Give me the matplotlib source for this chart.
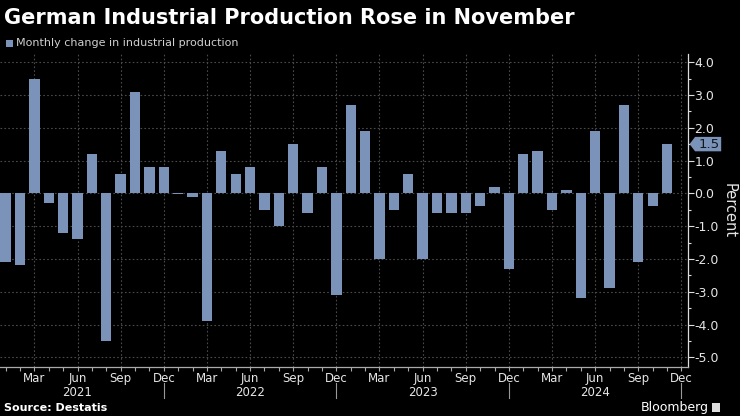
import matplotlib
matplotlib.use("Agg")
import matplotlib.pyplot as plt
from matplotlib.patches import Polygon, Rectangle
from matplotlib.ticker import MultipleLocator, FixedLocator
import numpy as np

# ---- data ----
months = ["Jan", "Feb", "Mar", "Apr", "May", "Jun", "Jul", "Aug", "Sep", "Oct", "Nov", "Dec"]
years = [2021, 2022, 2023, 2024]
values_2021 = [-2.1, -2.2, 3.5, -0.3, -1.2, -1.4, 1.2, -4.5, 0.6, 3.1, 0.8, 0.8]
values_2022 = [-0.02, -0.1, -3.9, 1.3, 0.6, 0.8, -0.5, -1.0, 1.5, -0.6, 0.8, -3.1]
values_2023 = [2.7, 1.9, -2.0, -0.5, 0.6, -2.0, -0.6, -0.6, -0.6, -0.4, 0.2, -2.3]
values_2024 = [1.2, 1.3, -0.5, 0.1, -3.2, 1.9, -2.9, 2.7, -2.1, -0.4, 1.5]
values = values_2021 + values_2022 + values_2023 + values_2024
tick_months = ["Mar", "Jun", "Sep", "Dec"]
title = "German Industrial Production Rose in November"
legend_label = "Monthly change in industrial production"
source = "Source: Destatis"

BG = "#000000"
BAR = "#7b93b9"
TXT = "#e6e6e6"
GRID = "#4a4a4a"

W, H = 740, 416
fig = plt.figure(figsize=(W / 100, H / 100), dpi=100, facecolor=BG)

ax_l, ax_r, ax_t, ax_b = 0, 687.5, 54, 366.5
ax = fig.add_axes([ax_l / W, 1 - ax_b / H, (ax_r - ax_l) / W, (ax_b - ax_t) / H])
ax.set_facecolor(BG)

x = np.arange(len(values))
ax.bar(x, values, width=0.72, color=BAR, zorder=3)

ax.set_xlim(-0.39, 47.42)
ax.set_ylim(-5.28, 4.247)

# y axis on right
ax.yaxis.tick_right()
ax.yaxis.set_label_position("right")
ax.yaxis.set_major_locator(MultipleLocator(1.0))
ax.yaxis.set_minor_locator(MultipleLocator(0.5))
ax.yaxis.set_major_formatter(matplotlib.ticker.FuncFormatter(lambda v, p: f"{v:.1f}"))
ax.tick_params(axis="y", which="major", length=4, width=0.8, color="#dddddd",
               labelcolor=TXT, labelsize=9, pad=1)
ax.tick_params(axis="y", which="minor", length=2.5, width=0.8, color="#dddddd")
ax.set_ylabel("Percent", rotation=270, color=TXT, fontsize=10.5, labelpad=13)

# x axis
month_idx = {m: i for i, m in enumerate(months)}
major_pos, major_lab = [], []
for yi, yr in enumerate(years):
    for m in tick_months:
        major_pos.append(yi * 12 + month_idx[m])
        major_lab.append(m)
ax.xaxis.set_major_locator(FixedLocator(major_pos))
ax.set_xticklabels(major_lab)
ax.xaxis.set_minor_locator(FixedLocator(np.arange(0, 48, 1)))
ax.tick_params(axis="x", which="both", length=3, width=0.8, color="#aaaaaa",
               labelcolor=TXT, labelsize=8.5, pad=1)

for yi, yr in enumerate(years):
    ax.text(yi * 12 + month_idx["Jun"], -0.084, str(yr), transform=ax.get_xaxis_transform(),
            ha="center", va="center", color=TXT, fontsize=8.5)
    sep = yi * 12 + month_idx["Dec"]
    ax.plot([sep, sep], [-0.054, -0.10], transform=ax.get_xaxis_transform(),
            color="#999999", lw=0.8, clip_on=False)

ax.grid(True, which="major", axis="both", color=GRID, linestyle=(0, (1.5, 2)), linewidth=0.8, zorder=0)

for s in ["top", "left"]:
    ax.spines[s].set_visible(False)
ax.spines["right"].set_color("#dddddd")
ax.spines["right"].set_linewidth(0.9)
ax.spines["bottom"].set_color("#aaaaaa")
ax.spines["bottom"].set_linewidth(0.9)

# current value tag
last = values[-1]
ytr = ax.get_yaxis_transform()
h = 0.22
poly = Polygon([(1.003, last), (1.011, last + h), (1.049, last + h), (1.049, last - h), (1.011, last - h)],
               closed=True, transform=ytr, facecolor=BAR, edgecolor="none", clip_on=False, zorder=5)
ax.add_patch(poly)
ax.text(1.031, last, f"{last:.1f}", transform=ytr, ha="center", va="center",
        color="#101820", fontsize=9.5, zorder=6, clip_on=False)

# title and legend
fig.text(4 / W, 1 - 18 / H, title, color="white", fontsize=15, fontweight="bold",
         ha="left", va="center")
fig.patches.append(Rectangle((6 / W, 1 - 47 / H), 7 / W, 7 / H, transform=fig.transFigure,
                             facecolor=BAR, edgecolor="none"))
fig.text(16 / W, 1 - 43.5 / H, legend_label, color="#d0d0d0", fontsize=8, ha="left", va="center")

fig.text(4 / W, 1 - 408 / H, source, color="white", fontsize=8, fontweight="bold",
         ha="left", va="center")
fig.text(709 / W, 1 - 407 / H, "Bloomberg", color="white", fontsize=9, ha="right", va="center")
fig.patches.append(Rectangle((712 / W, 1 - 412 / H), 8 / W, 9 / H, transform=fig.transFigure,
                             facecolor="#dddddd", edgecolor="none"))

fig.savefig("out.png", dpi=100, facecolor=BG)
